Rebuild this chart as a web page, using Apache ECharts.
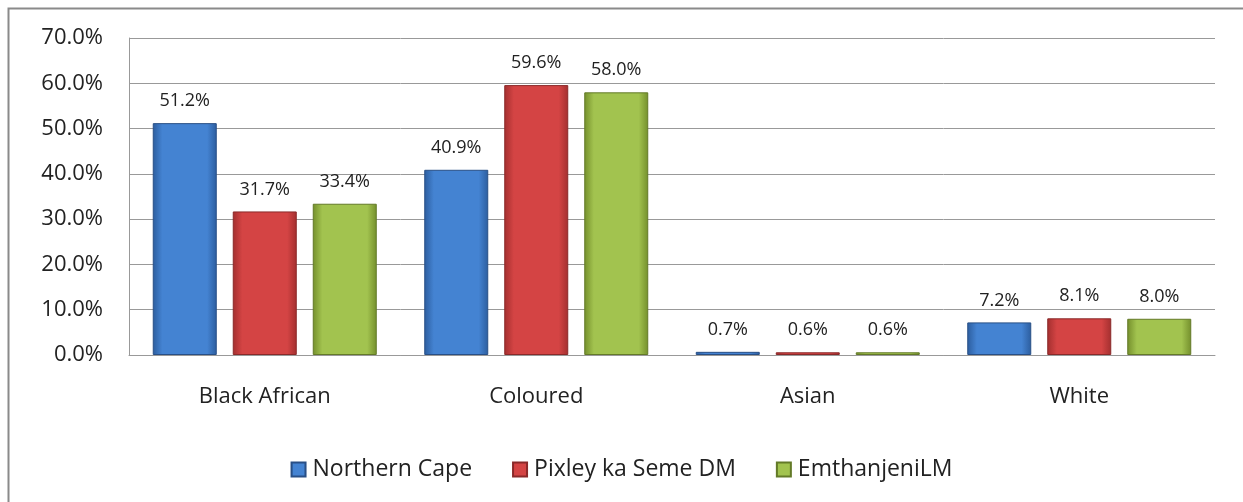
<!DOCTYPE html>
<html>
<head>
<meta charset="utf-8">
<script src="https://cdn.jsdelivr.net/npm/echarts@6/dist/echarts.min.js"></script>
<style>
  html, body { margin: 0; padding: 0; background: #fff; }
  #chart { width: 1243px; height: 502px; }
</style>
</head>
<body>
<div id="chart"></div>
<script>
const categories = ['Black African', 'Coloured', 'Asian', 'White'];
const seriesNames = ['Northern Cape', 'Pixley ka Seme DM', 'EmthanjeniLM'];
const northernCape = [51.2, 40.9, 0.7, 7.2];
const pixley = [31.7, 59.6, 0.6, 8.1];
const emthanjeni = [33.4, 58.0, 0.6, 8.0];

const font = '"Open Sans", Lato, sans-serif';

// colour sets: [edge, middle, border]
const palette = [
    ['#2c5d9e', '#4483d2', '#284f86'],
    ['#a32f2f', '#d44444', '#8a2929'],
    ['#748f2c', '#a2c34f', '#637a28']
];

function barStyle(c) {
    return {
        color: new echarts.graphic.LinearGradient(0, 0, 1, 0, [
            { offset: 0, color: c[0] },
            { offset: 0.15, color: c[1] },
            { offset: 0.85, color: c[1] },
            { offset: 1, color: c[0] }
        ]),
        borderColor: c[2],
        borderWidth: 1
    };
}

function makeSeries(name, data, i) {
    return {
        name: name,
        type: 'bar',
        data: data,
        barWidth: 64,
        barGap: '25%',
        itemStyle: barStyle(palette[i]),
        label: {
            show: true,
            position: 'top',
            distance: 13,
            formatter: p => p.value.toFixed(1) + '%',
            fontFamily: font,
            fontSize: 18,
            color: '#222'
        }
    };
}

const chart = echarts.init(document.getElementById('chart'));

const option = {
    animation: false,
    graphic: [{
        type: 'rect',
        shape: { x: 8.5, y: 8.5, width: 1400, height: 700 },
        style: { fill: 'none', stroke: '#8a8a8a', lineWidth: 2 }
    }],
    legend: {
        data: seriesNames,
        top: 453,
        left: 'center',
        icon: 'rect',
        itemWidth: 14,
        itemHeight: 14,
        itemGap: 40,
        textStyle: { fontFamily: font, fontSize: 23, color: '#222', padding: [0, 0, 0, 2] }
    },
    grid: {
        left: 129,
        right: 28,
        top: 38,
        bottom: 147,
        containLabel: false
    },
    xAxis: {
        type: 'category',
        data: categories,
        axisLine: { lineStyle: { color: '#999' } },
        axisTick: { show: false },
        axisLabel: {
            margin: 31,
            fontFamily: font,
            fontSize: 22,
            color: '#222'
        }
    },
    yAxis: {
        type: 'value',
        min: 0,
        max: 70,
        interval: 10,
        axisLine: { show: true, lineStyle: { color: '#999' } },
        axisTick: { show: false },
        splitLine: { lineStyle: { color: '#999' } },
        axisLabel: {
            margin: 26,
            formatter: v => v.toFixed(1) + '%',
            fontFamily: font,
            fontSize: 22,
            color: '#222'
        }
    },
    series: [
        makeSeries(seriesNames[0], northernCape, 0),
        makeSeries(seriesNames[1], pixley, 1),
        makeSeries(seriesNames[2], emthanjeni, 2)
    ]
};

chart.setOption(option);
</script>
</body>
</html>
